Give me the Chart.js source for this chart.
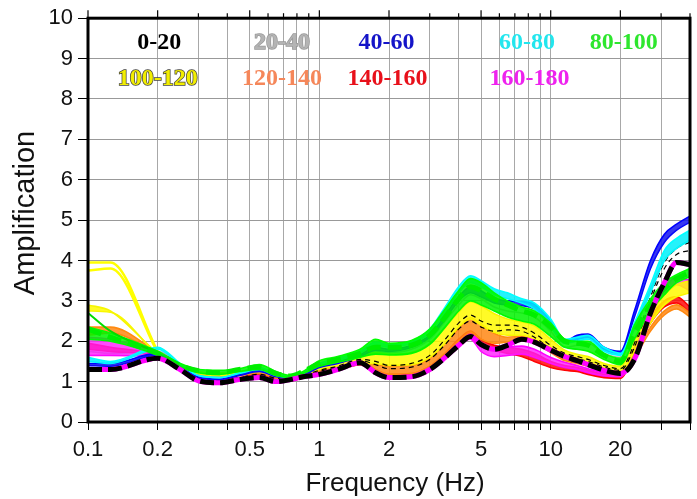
<!DOCTYPE html>
<html>
<head>
<meta charset="utf-8">
<script src="https://cdn.jsdelivr.net/npm/chart.js@4.4.1/dist/chart.umd.min.js"></script>
<style>
  html, body { margin: 0; padding: 0; background: #fff; }
  #wrap { width: 697px; height: 499px; }
</style>
</head>
<body>
<div id="wrap"><canvas id="chart" width="697" height="499"></canvas></div>
<script>
// frequencies (Hz) shared by every curve
const freqs = [0.1, 0.125, 0.2, 0.25, 0.3, 0.37, 0.45, 0.55, 0.65, 0.75, 0.85, 1, 1.2, 1.5, 1.75, 2, 2.5, 3, 3.5, 4, 4.5, 5, 5.7, 6.5, 7.5, 8.5, 10, 11.5, 13, 14.5, 17, 20, 23, 27, 31, 35, 40];

// thick dashed mean curves
const meanBlack = [1.30,1.30,1.58,1.30,1.02,0.97,1.05,1.10,1.00,1.05,1.12,1.18,1.30,1.47,1.22,1.10,1.12,1.30,1.60,1.90,2.12,1.92,1.80,1.90,2.05,1.98,1.78,1.62,1.52,1.42,1.28,1.20,1.55,2.70,3.45,3.95,3.90];
const meanGreen = [2.30,2.10,1.70,1.40,1.27,1.22,1.30,1.36,1.20,1.14,1.25,1.45,1.55,1.70,1.85,1.85,1.90,2.15,2.60,3.05,3.35,3.25,3.05,2.90,2.75,2.65,2.35,2.00,1.95,1.90,1.65,1.50,2.20,2.90,3.30,3.55,3.70];

// azimuth groups (upper / lower curve of each band)
const blackA  = [1.35,1.35,1.60,1.32,1.08,1.02,1.10,1.18,1.08,1.06,1.14,1.28,1.38,1.55,1.50,1.40,1.45,1.65,2.05,2.45,2.65,2.50,2.40,2.40,2.35,2.20,1.90,1.70,1.62,1.55,1.40,1.32,1.95,3.10,3.95,4.30,4.45];
const blackB  = [1.32,1.32,1.58,1.30,1.05,1.00,1.08,1.15,1.05,1.04,1.12,1.25,1.35,1.52,1.42,1.32,1.36,1.55,1.92,2.30,2.50,2.35,2.25,2.28,2.25,2.10,1.82,1.65,1.57,1.50,1.36,1.28,1.85,3.00,3.80,4.15,4.25];
const grayA   = [1.75,1.70,1.75,1.42,1.15,1.08,1.18,1.28,1.15,1.10,1.18,1.40,1.50,1.65,1.75,1.72,1.80,2.05,2.50,2.90,3.15,3.05,2.85,2.75,2.70,2.60,2.25,1.85,1.90,1.95,1.70,1.60,2.35,3.30,4.00,4.30,4.50];
const blueHi  = [1.45,1.45,1.70,1.40,1.12,1.08,1.18,1.30,1.15,1.10,1.18,1.40,1.50,1.68,1.85,1.80,1.90,2.15,2.65,3.10,3.35,3.25,3.05,3.00,2.98,2.92,2.50,2.00,2.15,2.18,1.85,1.75,2.75,4.00,4.65,4.90,5.10];
const blueLo  = [1.40,1.38,1.65,1.38,1.10,1.05,1.15,1.25,1.12,1.08,1.15,1.35,1.45,1.62,1.78,1.75,1.85,2.10,2.55,3.00,3.20,3.10,2.95,2.90,2.88,2.80,2.40,1.95,2.05,2.10,1.80,1.70,2.60,3.80,4.45,4.75,4.95];
const cyanHi  = [1.60,1.50,1.85,1.45,1.15,1.10,1.22,1.35,1.20,1.12,1.22,1.45,1.58,1.75,1.98,1.92,2.00,2.30,2.85,3.35,3.62,3.50,3.30,3.20,3.05,2.95,2.55,2.05,2.10,2.15,1.85,1.70,2.45,3.40,4.25,4.55,4.75];
const cyanLo  = [1.50,1.45,1.80,1.42,1.15,1.10,1.20,1.30,1.15,1.10,1.20,1.42,1.52,1.70,1.90,1.85,1.95,2.20,2.70,3.20,3.45,3.35,3.15,3.05,2.95,2.80,2.35,1.95,2.00,2.05,1.75,1.65,2.30,3.20,4.00,4.30,4.50];
const greenSpike = [2.70,2.25,1.72];
const greenHi = [2.35,2.20,1.75,1.45,1.30,1.28,1.32,1.42,1.25,1.15,1.25,1.52,1.62,1.80,2.05,1.95,2.02,2.30,2.80,3.25,3.55,3.45,3.20,3.00,2.85,2.75,2.45,2.05,2.00,2.00,1.70,1.58,2.40,3.05,3.45,3.65,3.80];
const greenLo = [2.05,2.00,1.65,1.38,1.22,1.18,1.25,1.30,1.15,1.10,1.20,1.38,1.48,1.60,1.68,1.66,1.70,1.92,2.35,2.75,3.00,2.90,2.75,2.60,2.50,2.42,2.12,1.85,1.80,1.75,1.55,1.42,2.05,2.75,3.15,3.45,3.60];
const yellowSpikeA = [3.95,3.95,1.75];
const yellowSpikeB = [3.75,3.80,1.72];
const yellowHi = [2.90,2.75,1.72,1.42,1.25,1.22,1.25,1.30,1.18,1.10,1.20,1.35,1.50,1.62,1.72,1.68,1.72,1.95,2.35,2.72,2.98,2.88,2.68,2.55,2.48,2.38,2.05,1.78,1.68,1.62,1.45,1.38,2.00,2.70,3.15,3.40,3.50];
const yellowLo = [2.75,2.72,1.68,1.38,1.20,1.15,1.20,1.25,1.12,1.07,1.16,1.30,1.38,1.45,1.45,1.40,1.42,1.60,1.95,2.35,2.55,2.40,2.22,2.15,2.15,2.05,1.78,1.58,1.48,1.42,1.30,1.24,1.75,2.45,2.90,3.10,3.20];
const orangeHi = [2.35,2.35,1.72,1.40,1.20,1.15,1.20,1.25,1.12,1.08,1.15,1.30,1.38,1.48,1.42,1.38,1.40,1.58,1.95,2.32,2.58,2.42,2.20,2.10,2.12,2.02,1.78,1.58,1.50,1.43,1.30,1.26,1.70,2.35,2.75,2.90,2.70];
const orangeLo = [2.15,2.20,1.68,1.38,1.15,1.10,1.15,1.20,1.08,1.05,1.12,1.25,1.30,1.42,1.28,1.18,1.20,1.38,1.70,2.00,2.22,2.05,1.95,1.98,2.05,1.95,1.72,1.52,1.45,1.38,1.26,1.22,1.60,2.25,2.65,2.80,2.60];
const redHi   = [1.95,1.85,1.65,1.35,1.12,1.05,1.10,1.18,1.08,1.05,1.12,1.25,1.33,1.50,1.30,1.18,1.20,1.38,1.70,2.05,2.25,2.05,1.90,1.85,1.80,1.70,1.50,1.40,1.35,1.28,1.18,1.15,1.85,2.60,3.00,3.10,2.85];
const redLo   = [1.80,1.75,1.62,1.32,1.08,1.00,1.05,1.12,1.05,1.02,1.10,1.20,1.28,1.42,1.20,1.10,1.12,1.30,1.60,1.95,2.15,1.95,1.78,1.70,1.62,1.50,1.35,1.28,1.25,1.18,1.10,1.08,1.70,2.45,2.85,2.95,2.70];
const magentaHi = [2.10,2.05,1.70,1.35,1.10,1.02,1.08,1.15,1.05,1.05,1.12,1.22,1.32,1.48,1.25,1.12,1.15,1.32,1.65,1.98,2.18,1.92,1.80,1.85,1.88,1.80,1.60,1.48,1.40,1.32,1.22,1.18,1.75,2.75,3.30,3.60,3.50];
const magentaLo = [1.65,1.65,1.62,1.32,1.05,0.98,1.05,1.10,1.02,1.03,1.10,1.18,1.28,1.45,1.20,1.08,1.10,1.28,1.58,1.90,2.05,1.75,1.62,1.65,1.68,1.60,1.45,1.35,1.30,1.22,1.14,1.12,1.65,2.65,3.15,3.40,3.25];

// axis ticks
const gridFreqs = [0.1,0.2,0.3,0.4,0.5,0.6,0.7,0.8,0.9,1,2,3,4,5,6,7,8,9,10,20,30,40];
const labelFreqs = [0.1, 0.2, 0.5, 1, 2, 5, 10, 20];

// legend labels (text, colour, frequency, amplification)
const legendText  = ["0-20", "20-40", "40-60", "60-80", "80-100", "100-120", "120-140", "140-160", "160-180"];
const legendColor = ["#000000", "#b4b4b4", "#1414c8", "#22e6ee", "#2ee62e", "#f2ee00", "#f5875a", "#e8101a", "#ee22ee"];
const legendFreq  = [0.203, 0.69, 1.95, 7.9, 20.7, 0.2, 0.69, 1.97, 8.1];
const legendAmp   = [9.4, 9.4, 9.4, 9.4, 9.4, 8.5, 8.5, 8.5, 8.5];

function pts(arr) {
  return arr.map((v, i) => ({ x: freqs[i], y: v }));
}

function line(arr, color, extra) {
  return Object.assign({
    data: pts(arr),
    borderColor: color,
    backgroundColor: color,
    borderWidth: 1.6,
    pointRadius: 0,
    cubicInterpolationMode: "monotone",
    fill: false
  }, extra || {});
}

function band(hi, lo, color, fillColor) {
  return [
    line(hi, color, { fill: "+1", backgroundColor: fillColor }),
    line(lo, color)
  ];
}

// first dataset is painted last (on top)
const datasets = [
  line(meanBlack, "#000000", { borderWidth: 5, borderDash: [14, 6] }),
  line(meanBlack, "#ff00ff", { borderWidth: 5 }),
  line(meanGreen, "#00ee00", { borderWidth: 5, borderDash: [14, 7] }),
  line(greenSpike, "#00dd00", { borderWidth: 2 }),
  ...band(greenHi, greenLo, "#00ff00", "rgba(0,245,0,0.85)"),
  ...band(cyanHi, cyanLo, "#00ffff", "rgba(0,240,250,0.85)"),
  ...band(blueHi, blueLo, "#0000ff", "rgba(20,20,240,0.85)"),
  line(blackA, "#000000", { borderWidth: 1.2, borderDash: [5, 4] }),
  line(blackB, "#000000", { borderWidth: 1.2, borderDash: [5, 4] }),
  line(yellowSpikeA, "#ffff00", { borderWidth: 2.5 }),
  line(yellowSpikeB, "#ffff00", { borderWidth: 2.5 }),
  ...band(yellowHi, yellowLo, "#f6f600", "rgba(255,250,0,0.85)"),
  ...band(orangeHi, orangeLo, "#ff8a10", "rgba(255,135,20,0.85)"),
  ...band(magentaHi, magentaLo, "#ff00ff", "rgba(255,30,255,0.8)"),
  ...band(redHi, redLo, "#ff0000", "rgba(255,10,10,0.85)"),
  line(grayA, "#b0b0b0")
];

const decorations = {
  id: "decorations",
  afterDraw(chart) {
    const ctx = chart.ctx;
    const a = chart.chartArea;
    const xs = chart.scales.x, ys = chart.scales.y;
    ctx.save();
    // frame
    ctx.strokeStyle = "#000";
    ctx.lineWidth = 3;
    ctx.strokeRect(a.left, a.top, a.right - a.left, a.bottom - a.top);
    // ticks above the top frame
    ctx.lineWidth = 1.2;
    gridFreqs.forEach(f => {
      const px = xs.getPixelForValue(f);
      const len = labelFreqs.includes(f) ? 8 : 5;
      ctx.beginPath();
      ctx.moveTo(px, a.top);
      ctx.lineTo(px, a.top - len);
      ctx.stroke();
    });
    // axis titles
    ctx.fillStyle = "#111";
    ctx.font = '26px "Liberation Sans", Arial, sans-serif';
    ctx.textAlign = "center";
    ctx.textBaseline = "middle";
    ctx.fillText("Frequency (Hz)", 395, 484);
    ctx.save();
    ctx.translate(26, 213);
    ctx.rotate(-Math.PI / 2);
    ctx.font = '29px "Liberation Sans", Arial, sans-serif';
    ctx.fillText("Amplification", 0, 0);
    ctx.restore();
    // group labels
    ctx.font = 'bold 24px "Liberation Serif", "Times New Roman", serif';
    legendText.forEach((t, i) => {
      const px = xs.getPixelForValue(legendFreq[i]);
      const py = ys.getPixelForValue(legendAmp[i]);
      if (legendColor[i] === "#f2ee00" || legendColor[i] === "#b4b4b4") {
        ctx.lineWidth = 1.5;
        ctx.strokeStyle = legendColor[i] === "#f2ee00" ? "#444" : "#999";
        ctx.strokeText(t, px, py);
      }
      ctx.fillStyle = legendColor[i];
      ctx.fillText(t, px, py);
    });
    ctx.restore();
  }
};

new Chart(document.getElementById("chart"), {
  type: "line",
  data: { datasets },
  options: {
    responsive: false,
    animation: false,
    layout: { padding: { top: 17, right: 0, left: 0, bottom: 0 } },
    plugins: { legend: { display: false }, tooltip: { enabled: false } },
    scales: {
      x: {
        type: "logarithmic",
        min: 0.1,
        max: 40,
        afterBuildTicks: scale => { scale.ticks = gridFreqs.map(v => ({ value: v })); },
        afterFit: scale => { scale.height = 77; },
        ticks: {
          autoSkip: false,
          maxRotation: 0,
          padding: 7,
          color: "#111",
          font: { family: '"Liberation Sans", Arial, sans-serif', size: 22 },
          callback: v => (labelFreqs.find(l => Math.abs(l - v) < 1e-9) !== undefined ? String(v) : "")
        },
        grid: { color: "#a8a8a8", lineWidth: 1, tickLength: 8, tickColor: "#000" },
        border: { display: false }
      },
      y: {
        min: 0,
        max: 10,
        afterFit: scale => { scale.width = 88; },
        ticks: {
          stepSize: 1,
          padding: 5,
          color: "#111",
          font: { family: '"Liberation Sans", Arial, sans-serif', size: 22 }
        },
        grid: { color: "#999", lineWidth: 1, tickLength: 10, tickColor: "#000" },
        border: { display: false }
      }
    }
  },
  plugins: [decorations]
});
</script>
</body>
</html>
